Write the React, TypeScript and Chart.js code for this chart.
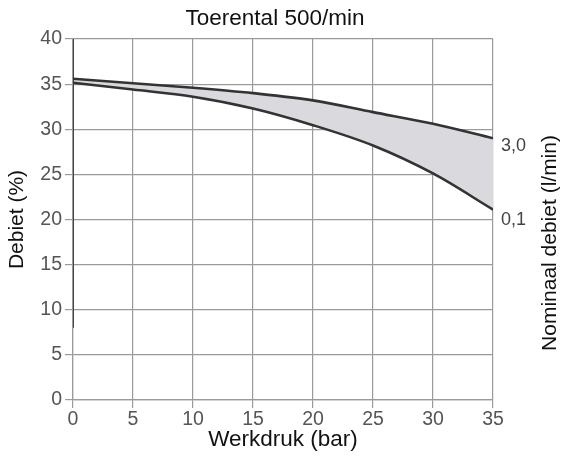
import React, { useEffect, useRef } from "react";
import { Chart, registerables } from "chart.js";

Chart.register(...registerables);

const pressure = [0, 5, 10, 15, 20, 25, 30, 35];
const flowHigh = [35.6, 35.1, 34.6, 34.0, 33.2, 31.9, 30.6, 29.0];
const flowLow = [35.15, 34.4, 33.6, 32.3, 30.45, 28.2, 25.1, 21.1];
const seriesLabels = ["3,0", "0,1"];
const leftAxisDark = [8, 40];

const titleText = "Toerental 500/min";
const xTitle = "Werkdruk (bar)";
const yTitle = "Debiet (%)";
const y2Title = "Nominaal debiet (l/min)";

const FONT = "'Liberation Sans', Arial, sans-serif";

const textPlugin = {
  id: "texts",
  afterDraw(chart: any) {
    const ctx = chart.ctx;
    const xs = chart.scales.x;
    const ys = chart.scales.y;
    ctx.save();
    ctx.fillStyle = "#111";
    ctx.font = `22.5px ${FONT}`;
    ctx.textAlign = "center";
    ctx.textBaseline = "middle";
    ctx.fillText(titleText, 275, 19);
    // series end labels
    ctx.fillStyle = "#444";
    ctx.font = `18px ${FONT}`;
    ctx.textAlign = "left";
    const lastX = xs.getPixelForValue(pressure[pressure.length - 1]);
    ctx.fillText(seriesLabels[0], lastX + 8, ys.getPixelForValue(flowHigh[flowHigh.length - 1]) + 8);
    ctx.fillText(seriesLabels[1], lastX + 8, ys.getPixelForValue(flowLow[flowLow.length - 1]) + 10);
    // right axis title
    ctx.fillStyle = "#111";
    ctx.font = `21px ${FONT}`;
    ctx.translate(550, 243);
    ctx.rotate(-Math.PI / 2);
    ctx.textAlign = "center";
    ctx.fillText(y2Title, 0, 0);
    ctx.restore();
  },
};

export default function App() {
  const ref = useRef<HTMLCanvasElement>(null);
  useEffect(() => {
    if (!ref.current) return;
    const chart = new Chart(ref.current, {
      type: "line",
      data: {
        datasets: [
          {
            label: seriesLabels[0],
            data: pressure.map((x, i) => ({ x, y: flowHigh[i] })),
            borderColor: "#333",
            borderWidth: 2.6,
            pointRadius: 0,
            cubicInterpolationMode: "monotone",
            fill: "+1",
            backgroundColor: "#d9d9de",
          },
          {
            label: seriesLabels[1],
            data: pressure.map((x, i) => ({ x, y: flowLow[i] })),
            borderColor: "#333",
            borderWidth: 2.6,
            pointRadius: 0,
            cubicInterpolationMode: "monotone",
            fill: false,
          },
          {
            label: "axis",
            data: leftAxisDark.map((y) => ({ x: 0, y })),
            borderColor: "#444",
            borderWidth: 2,
            pointRadius: 0,
            fill: false,
          },
        ],
      },
      options: {
        responsive: false,
        animation: false,
        devicePixelRatio: 1,
        layout: { padding: { left: 5, right: 70, top: 39, bottom: 7 } },
        plugins: {
          legend: { display: false },
          title: { display: false },
          tooltip: { enabled: false },
          filler: { drawTime: "beforeDatasetsDraw" },
        },
        scales: {
          x: {
            type: "linear",
            min: 0,
            max: 35,
            ticks: { stepSize: 5, color: "#555", font: { family: FONT, size: 19.5 }, padding: 0 },
            grid: { color: "#9a9a9a", lineWidth: 1.2, tickLength: 8 },
            border: { color: "#9a9a9a", width: 1.2 },
            title: { display: true, text: xTitle, color: "#111", font: { family: FONT, size: 22.5 }, padding: 0 },
            afterFit: (s: any) => {
              s.height = 53;
            },
          },
          y: {
            min: 0,
            max: 40,
            ticks: { stepSize: 5, color: "#555", font: { family: FONT, size: 19.5 }, padding: 3 },
            grid: { color: "#9a9a9a", lineWidth: 1.2, tickLength: 8 },
            border: { color: "#9a9a9a", width: 1.2 },
            title: { display: true, text: yTitle, color: "#111", font: { family: FONT, size: 21 }, padding: 0 },
            afterFit: (s: any) => {
              s.width = 68;
            },
          },
        },
      },
      plugins: [textPlugin],
    } as any);
    return () => chart.destroy();
  }, []);
  return (
    <div style={{ position: "absolute", left: 0, top: 0, width: 563, height: 460, background: "#fff" }}>
      <canvas ref={ref} width={563} height={460} />
    </div>
  );
}
